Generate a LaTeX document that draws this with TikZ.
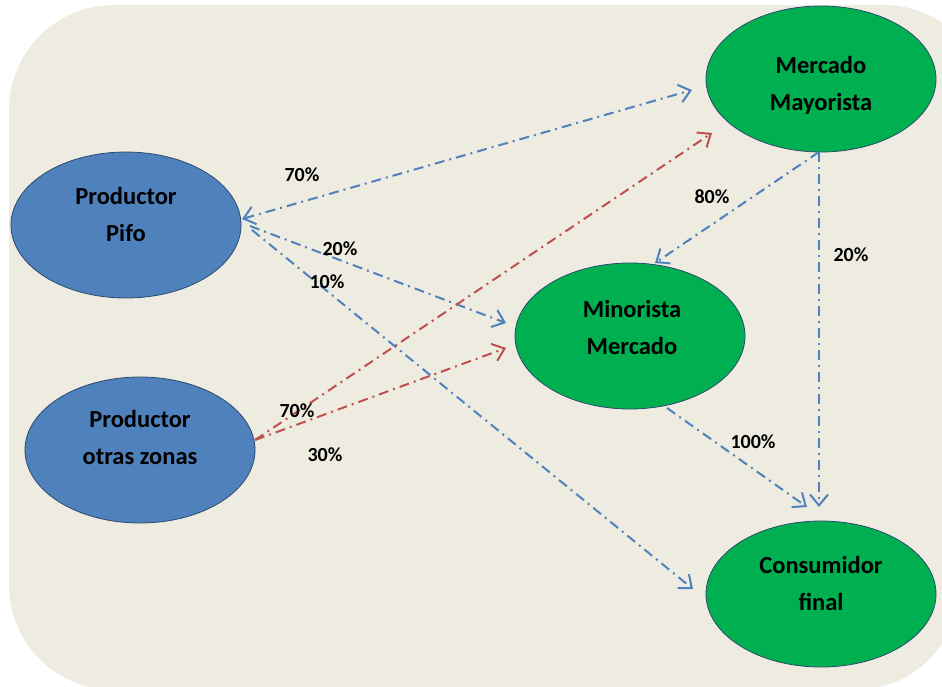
\documentclass[tikz,border=0pt]{standalone}
\usepackage{fontspec}
\setmainfont{Carlito}
\usetikzlibrary{shapes.geometric,arrows.meta}
\definecolor{bgc}{HTML}{EEECE1}
\definecolor{bluefill}{HTML}{4F81BD}
\definecolor{greenfill}{HTML}{00B050}
\definecolor{rimc}{HTML}{2C4A6E}
\definecolor{blueline}{HTML}{4F81BD}
\definecolor{redline}{HTML}{C0504D}
\tikzset{
  barb/.tip={Straight Barb[length=11pt,width=18pt,line width=2pt]},
  ell/.style={ellipse, draw=rimc, line width=0.8pt, minimum width=230pt, minimum height=146pt, inner sep=0pt},
  blueell/.style={ell, fill=bluefill},
  greenell/.style={ell, fill=greenfill},
  etext/.style={align=center, font=\fontsize{24.5}{37}\selectfont\bfseries, inner sep=0pt},
  pct/.style={font=\fontsize{20}{22}\selectfont\bfseries, inner sep=0pt},
  flow/.style={line width=2pt, dash pattern=on 10pt off 5pt on 2pt off 5pt, -{barb}},
  bflow/.style={flow, draw=blueline},
  rflow/.style={flow, draw=redline},
}
\begin{document}
\begin{tikzpicture}[x=1pt,y=-1pt]
\useasboundingbox (0,0) rectangle (942,686);
\begin{scope}
\clip (0,0) rectangle (942,686);
\fill[bgc] (9,110) arc[start angle=180, end angle=270, radius=105]
  -- (884,5) arc[start angle=270, end angle=360, radius=105]
  -- (960,585) arc[start angle=0, end angle=90, radius=105]
  -- (114,690) arc[start angle=90, end angle=180, radius=105] -- cycle;
\end{scope}

% ellipses
\node[blueell] (pifo) at (126,225) {};
\node[blueell] (otras) at (140,450) {};
\node[greenell] (min) at (630,336) {};
\node[greenell] (may) at (821,79) {};
\node[greenell] (con) at (821,594) {};

\node[etext] (pifoT) at (126,214) {Productor\\Pifo};
\node[etext] (otrasT) at (140,437) {Productor\\otras zonas};
\node[etext] (minT) at (632,327) {Minorista\\Mercado};
\node[etext] (mayT) at (821,85) {Mercado\\Mayorista};
\node[etext] (conT) at (821,583) {Consumidor\\final};

% connector end points
\coordinate (p1) at (242,219);
\coordinate (p2) at (250,226);
\coordinate (p3) at (252,230);
\coordinate (o1) at (255,440);
\coordinate (mayIn1) at (692,90);
\coordinate (mayIn2) at (712,133);
\coordinate (mayOut) at (819,152);
\coordinate (minIn1) at (506,323);
\coordinate (minIn2) at (506,348);
\coordinate (minIn3) at (655,263);
\coordinate (minOut) at (667,408);
\coordinate (conIn1) at (693,589);
\coordinate (conIn2) at (807,507);
\coordinate (conIn3) at (819,507);

% blue flows
\draw[bflow, {barb}-{barb}] (p1) -- (mayIn1);
\draw[bflow] (p2) -- (minIn1);
\draw[bflow] (p3) -- (conIn1);
\draw[bflow] (mayOut) -- (minIn3);
\draw[bflow] (mayOut) -- (conIn3);
\draw[bflow] (minOut) -- (conIn2);

% red flows
\draw[rflow] (o1) -- (mayIn2);
\draw[rflow] (o1) -- (minIn2);

% percentages
\node[pct] (l70a) at (302,175) {70\%};
\node[pct] (l20a) at (340,249) {20\%};
\node[pct] (l10) at (327,282) {10\%};
\node[pct] (l80) at (712,197) {80\%};
\node[pct] (l20b) at (851,255) {20\%};
\node[pct] (l70b) at (297,411) {70\%};
\node[pct] (l30) at (325,455) {30\%};
\node[pct] (l100) at (753,442) {100\%};
\end{tikzpicture}
\end{document}
